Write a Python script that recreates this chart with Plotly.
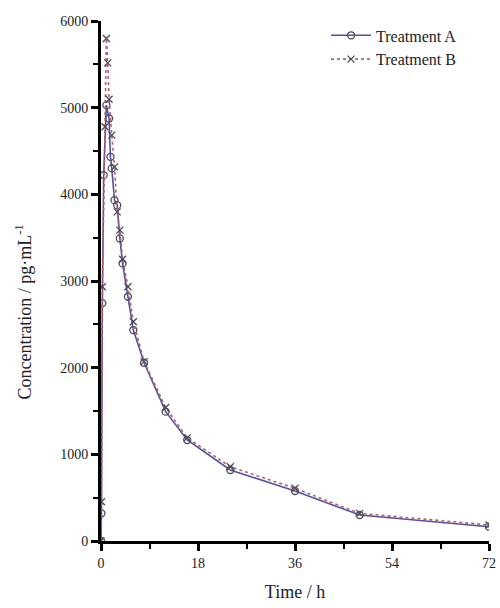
import plotly.graph_objects as go

time_A = [0, 0.083, 0.25, 0.5, 1, 1.5, 1.75, 2, 2.5, 3, 3.5, 4, 5, 6, 8, 12, 16, 24, 36, 48, 72]
conc_A = [0, 319, 2745, 4221, 5029, 4875, 4433, 4299, 3933, 3875, 3491, 3203, 2818, 2434, 2057, 1492, 1165, 819, 577, 300, 165]

time_B = [0, 0.083, 0.25, 0.75, 1, 1.25, 1.5, 2, 2.5, 3, 3.5, 4, 5, 6, 8, 12, 16, 24, 36, 48, 72]
conc_B = [0, 453, 2933, 4779, 5798, 5517, 5098, 4683, 4317, 3798, 3587, 3250, 2933, 2530, 2070, 1540, 1190, 857, 608, 319, 185]

x_ticks = [0, 18, 36, 54, 72]
y_ticks = [0, 1000, 2000, 3000, 4000, 5000, 6000]

FONT = "Liberation Serif"

fig = go.Figure()
fig.add_trace(go.Scatter(
    x=time_A, y=conc_A, name="Treatment A", mode="lines+markers",
    line=dict(color="#55519c", width=1.6),
    marker=dict(symbol="circle-open", size=7, color="#4a4a5a", line=dict(width=1.3)),
))
fig.add_trace(go.Scatter(
    x=time_B, y=conc_B, name="Treatment B", mode="lines+markers",
    line=dict(color="#b0606e", width=1.6, dash="dot"),
    marker=dict(symbol="x-thin-open", size=7, color="#4a4a5a", line=dict(width=1.3, color="#4a4a5a")),
))

axis_common = dict(
    showgrid=False, zeroline=False, showline=True, linecolor="black", linewidth=3,
    ticks="outside", ticklen=7, tickwidth=3, tickcolor="black", automargin=False,
    tickfont=dict(family=FONT, size=14, color="#222"),
)

fig.update_xaxes(
    range=[0, 72], tickvals=x_ticks, **axis_common,
    minor=dict(ticks="outside", ticklen=5, tickwidth=2, tickcolor="black", dtick=9, tick0=0),
    title=dict(text="Time / h", font=dict(family=FONT, size=18, color="#222"), standoff=16),
)
fig.update_yaxes(
    range=[0, 6000], tickvals=y_ticks, **axis_common,
    minor=dict(ticks="outside", ticklen=5, tickwidth=2, tickcolor="black", dtick=500, tick0=0),
)

fig.add_annotation(
    text="Concentration / pg·mL<sup>-1</sup>", xref="paper", yref="paper",
    x=-0.2, y=0.44, xanchor="center", yanchor="middle", textangle=-90, showarrow=False,
    font=dict(family=FONT, size=18, color="#222"),
)

fig.update_layout(
    width=500, height=608,
    margin=dict(l=101, r=11, t=21, b=67),
    paper_bgcolor="white", plot_bgcolor="white",
    showlegend=True,
    legend=dict(x=0.58, y=1.005, xanchor="left", yanchor="top", itemwidth=40,
                font=dict(family=FONT, size=16, color="#222"),
                bgcolor="rgba(0,0,0,0)"),
)

fig.write_html("out.html")
